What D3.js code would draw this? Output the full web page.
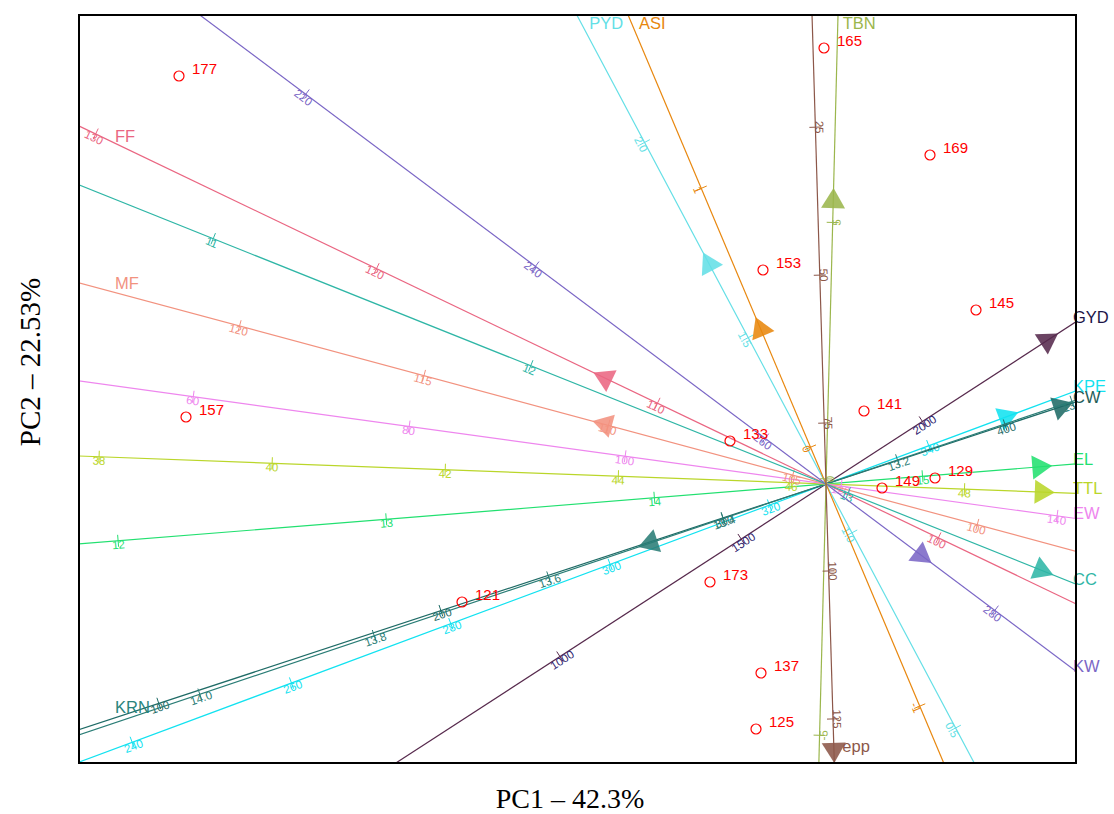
<!DOCTYPE html>
<html><head><meta charset="utf-8">
<script src="https://cdn.jsdelivr.net/npm/d3@7"></script>
<style>body{margin:0;background:#fff}</style>
</head><body>
<svg id="chart" width="1114" height="814"></svg>
<script>
// Sample scores (PC1, PC2)
const sampleIds = ["177","165","169","153","145","157","141","133","129","149","121","173","137","125"];
const samplePC1 = [-6.47,-0.02,1.04,-0.63,1.50,-6.40,0.38,-0.96,1.09,0.56,-3.64,-1.16,-0.65,-0.70];
const samplePC2 = [4.08,4.36,3.29,2.14,1.74,0.67,0.73,0.43,0.06,-0.04,-1.18,-0.98,-1.89,-2.45];

// Variables (calibrated axes)
const varNames = ["GYD","KPE","CW","KRN","EL","TTL","EW","MF","FF","CC","KW","PYD","ASI","TBN","epp"];
const loadPC1  = [2.22, 1.81, 2.356, -1.763, 2.143, 2.168, 2.60, -2.22, -2.218, 2.163, 0.960, -1.173, -0.657, 0.0727, 0.0795];
const loadPC2  = [1.44, 0.674, 0.775, -0.592, 0.172, -0.0813, -0.3586, 0.598, 1.063, -0.866, -0.719, 2.208, 1.557, 2.839, -2.669];
const varMeans = [1734, 327.1, 336.5, 13.282, 14.64, 46.4, 118.6, 104.1, 104, 12.93, 265.3, 1.125, -0.142, -0.1, 85.3];
const varScales = [0.00432, 0.085, 0.0297, 9.20, 2.69, 0.866, 0.109, 0.382, 0.3115, 3.42, 0.1435, 4.42, 2.81, 0.513, 0.0592];
const varTickLabels = [
  ["1000","1500","2000"],
  ["240","260","280","300","320","340"],
  ["100","200","300","400"],
  ["13.0","13.2","13.4","13.6","13.8","14.0"],
  ["12","13","14","15"],
  ["38","40","42","44","46","48"],
  ["60","80","100","120","140"],
  ["100","105","110","115","120"],
  ["100","110","120","130"],
  ["11","12","13"],
  ["220","240","260","280"],
  ["0.5","1.0","1.5","2.0"],
  ["-1","0","1"],
  ["-5","0","5"],
  ["25","50","75","100","125"]
];
const varColors = ["#572a4d","#12e2f0","#1f6b66","#2a7d76","#22e070","#bad62a","#ee86ee","#f2927f","#ea6682","#2fb6a6","#7b67c6","#64dfe6","#e8870e","#9bb64c","#8c5749"];
const varLabelColors = ["#1d1548","#12e2f0","#1f5e59","#2a847c","#22e070","#bad62a","#ee86ee","#f2927f","#ea6682","#2fb6a6","#7b67c6","#64dfe6","#e8870e","#9bb64c","#8c5749"];
const varTickColors = ["#2e2470","#12e2f0","#1f6b66","#2a7d76","#22e070","#bad62a","#ee86ee","#f2927f","#ea6682","#2fb6a6","#7b67c6","#64dfe6","#e8870e","#9bb64c","#8c5749"];

const xTitle = "PC1 – 42.3%";
const yTitle = "PC2 – 22.53%";

const L = 79, R = 1076, T = 15, B = 763;
const svg = d3.select("#chart");
const x = d3.scaleLinear().domain([-7.47, 2.50]).range([L, R]);
const y = d3.scaleLinear().domain([-2.79, 4.69]).range([B, T]);

svg.append("defs").append("clipPath").attr("id","clip")
  .append("rect").attr("x",L).attr("y",T).attr("width",R-L).attr("height",B-T);

const gAx = svg.append("g").attr("clip-path","url(#clip)");
const gTop = svg.append("g");
const ox = x(0), oy = y(0);

varNames.forEach((name, i) => {
  const col = varColors[i];
  let dx = x(loadPC1[i]) - ox, dy = y(loadPC2[i]) - oy;
  const len = Math.hypot(dx, dy);
  const ux = dx/len, uy = dy/len;
  const pxPerPC = x(1) - x(0);
  gAx.append("line")
    .attr("x1", ox - ux*2000).attr("y1", oy - uy*2000)
    .attr("x2", ox + ux*2000).attr("y2", oy + uy*2000)
    .attr("stroke", col).attr("stroke-width", 1.2);
  let ang = Math.atan2(uy, ux) * 180/Math.PI;
  if (ang > 90) ang -= 180;
  if (ang <= -90) ang += 180;
  const ar = ang*Math.PI/180;
  let nx = -Math.sin(ar), ny = Math.cos(ar);
  if (Math.abs(ang) > 80) { nx = 1; ny = 0; }
  varTickLabels[i].forEach(lbl => {
    const v = +lbl;
    const along = (v - varMeans[i]) * varScales[i] * pxPerPC;
    const tx = ox + ux*along, ty = oy + uy*along;
    gAx.append("line")
      .attr("x1", tx + uy*6).attr("y1", ty - ux*6)
      .attr("x2", tx - uy*6).attr("y2", ty + ux*6)
      .attr("stroke", col).attr("stroke-width", 1);
    gAx.append("text")
      .attr("transform", `translate(${tx + nx*4},${ty + ny*4}) rotate(${ang})`)
      .attr("text-anchor","middle").attr("dominant-baseline","central")
      .attr("font-family","Liberation Sans, Arial, sans-serif").attr("font-size",11.5)
      .attr("fill", varTickColors[i]).text(lbl);
  });
  const ax = x(loadPC1[i]), ay = y(loadPC2[i]);
  const px = -uy, py = ux;
  const pts = [[ax + ux*12, ay + uy*12],[ax - ux*8 + px*12, ay - uy*8 + py*12],[ax - ux*8 - px*12, ay - uy*8 - py*12]];
  gAx.append("polygon").attr("points", pts.map(p=>p.join(",")).join(" "))
    .attr("fill", col).attr("fill-opacity", 0.88).attr("stroke","none");
  const cands = [];
  if (ux > 0) cands.push([(R-ox)/ux, "right"]);
  if (ux < 0) cands.push([(L-ox)/ux, "left"]);
  if (uy < 0) cands.push([(T-oy)/uy, "top"]);
  if (uy > 0) cands.push([(B-oy)/uy, "bottom"]);
  cands.sort((a,b)=>a[0]-b[0]);
  const [tHit, side] = cands[0];
  const hx = ox + ux*tHit, hy = oy + uy*tHit;
  let lx, ly;
  if (side === "right") { lx = R - 3; ly = hy + 1; }
  else if (side === "left") { lx = L + 36; const t2 = (125 - ox)/ux; ly = oy + uy*t2 - 6; }
  else if (side === "top") { const t2 = (29 - oy)/uy; lx = ox + ux*t2 + 5; ly = 29; }
  else { lx = hx + 8; ly = B - 11; }
  gTop.append("text").attr("x", lx).attr("y", ly)
    .attr("font-family","Liberation Sans, Arial, sans-serif").attr("font-size",16.5)
    .attr("fill", varLabelColors[i]).text(name);
});

const gPts = svg.append("g");
sampleIds.forEach((id, i) => {
  const cx = x(samplePC1[i]), cy = y(samplePC2[i]);
  gPts.append("circle").attr("cx", cx).attr("cy", cy).attr("r", 5)
    .attr("fill","none").attr("stroke","#ff0000").attr("stroke-width",1.2);
  gPts.append("text").attr("x", cx + 13).attr("y", cy - 2)
    .attr("font-family","Liberation Sans, Arial, sans-serif").attr("font-size",15)
    .attr("fill","#ff0000").text(id);
});

svg.append("rect").attr("x",L).attr("y",T).attr("width",R-L).attr("height",B-T)
  .attr("fill","none").attr("stroke","#000").attr("stroke-width",2);

svg.append("text").attr("x", 570).attr("y", 808).attr("text-anchor","middle")
  .attr("font-family","Liberation Serif, Times New Roman, serif").attr("font-size",28)
  .attr("fill","#000").text(xTitle);
svg.append("text").attr("transform","translate(40,362) rotate(-90)").attr("text-anchor","middle")
  .attr("font-family","Liberation Serif, Times New Roman, serif").attr("font-size",29)
  .attr("fill","#000").text(yTitle);
</script>
</body></html>
